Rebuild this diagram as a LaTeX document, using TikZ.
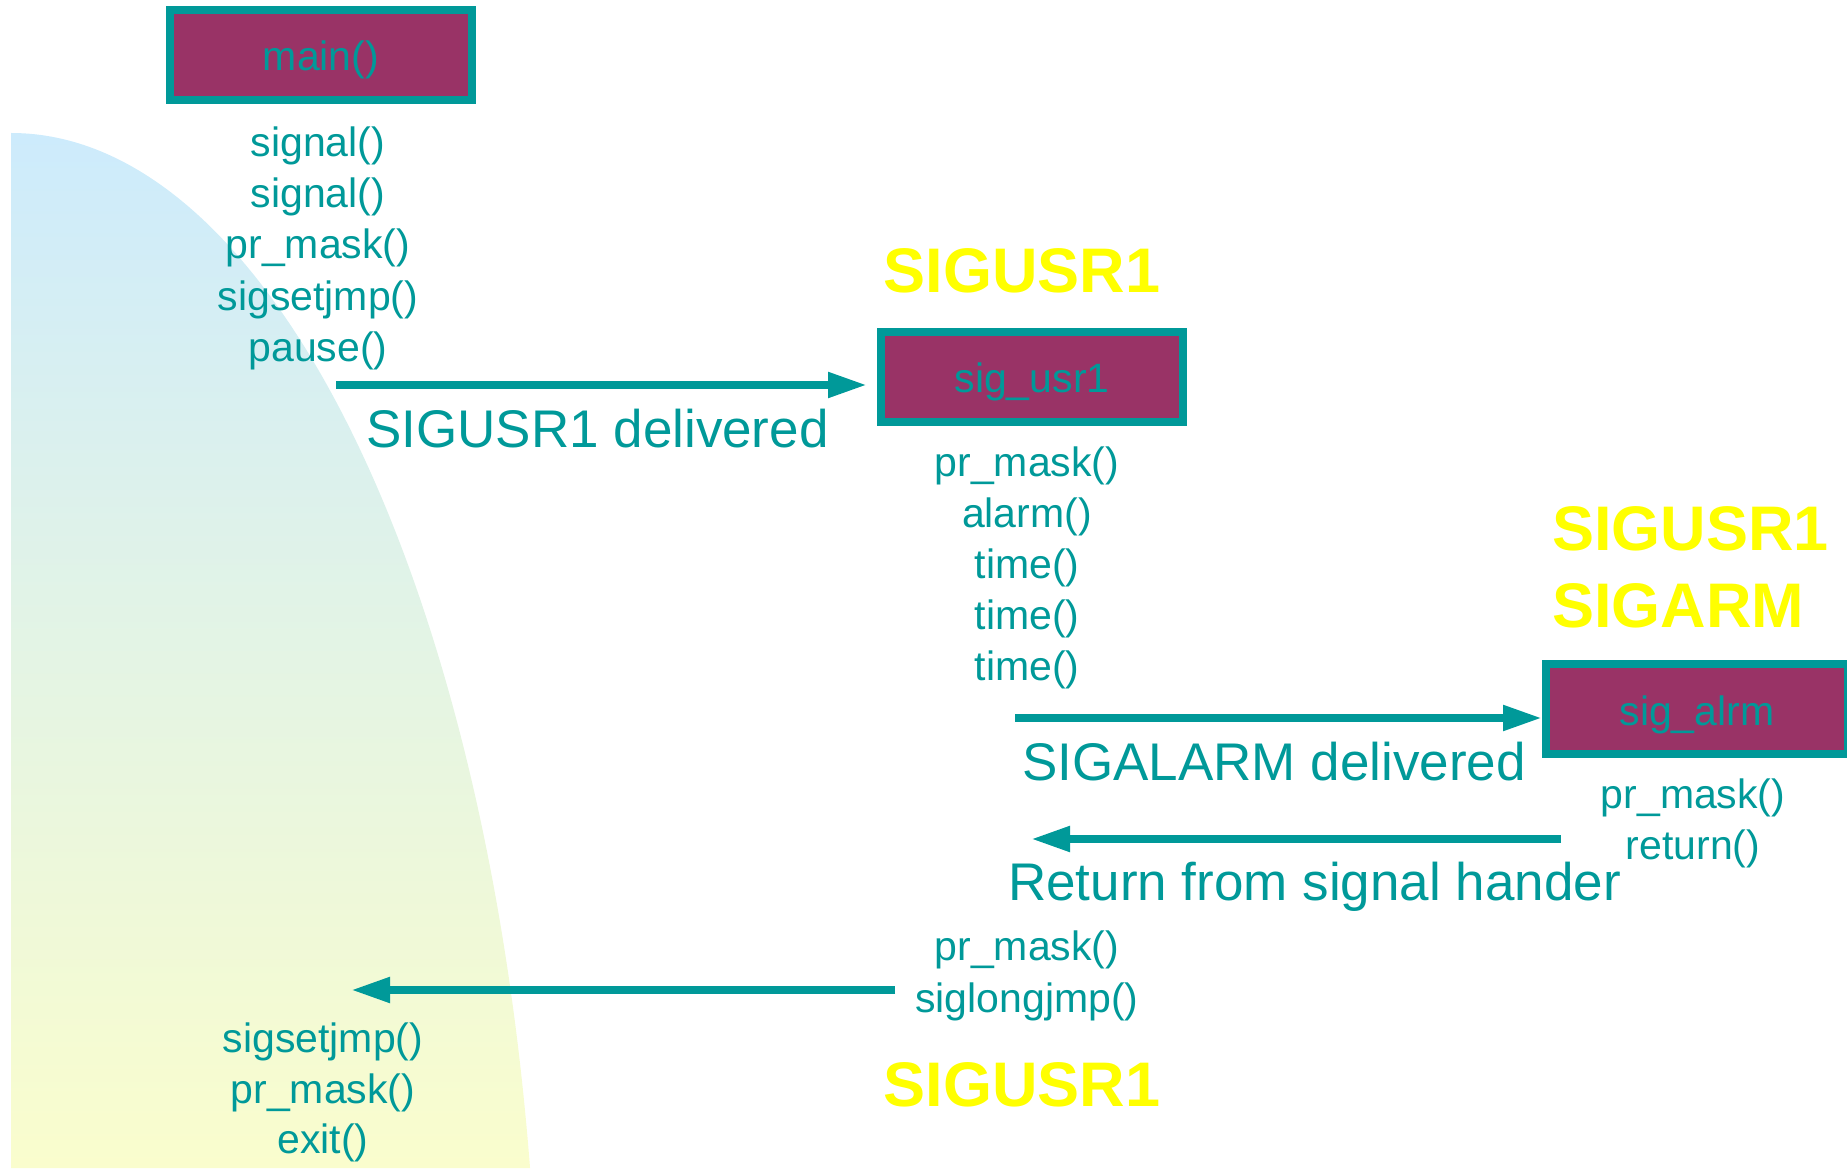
\documentclass[tikz,border=0pt]{standalone}
\usepackage{fontspec}
\setmainfont{Liberation Sans}
\usetikzlibrary{arrows.meta}
\definecolor{tealc}{HTML}{009999}
\definecolor{plumc}{HTML}{993366}
\definecolor{skyc}{HTML}{CDEBFC}
\definecolor{palec}{HTML}{FAFDCD}
\definecolor{yelc}{HTML}{FFFF00}
\newcommand{\boxlbl}[1]{\raisebox{-16pt}[0pt][0pt]{#1}}
\begin{document}
\begin{tikzpicture}[x=1pt,y=1pt,
  funcbox/.style={draw=tealc, fill=plumc, line width=8pt, minimum width=302pt, minimum height=90pt, inner sep=0pt, text=tealc, font=\fontsize{41}{49}\selectfont},
  code/.style={text=tealc, font=\fontsize{41}{49}\selectfont, inner sep=0pt, anchor=base},
  biglbl/.style={text=tealc, font=\fontsize{53}{64}\selectfont, inner sep=0pt, anchor=base west},
  sigl/.style={text=yelc, font=\bfseries\fontsize{63}{77}\selectfont, inner sep=0pt},
  flow/.style={draw=tealc, line width=8pt, -{Triangle[length=39pt,width=24pt]}}
]
\useasboundingbox (0,0) rectangle (1847,1168);
\shade[top color=skyc, bottom color=palec] (11,0) -- (11,1035) arc[start angle=90, end angle=10.55, x radius=528pt, y radius=1267pt] -- cycle;

% function boxes
\node[funcbox] (main) at (321,1113) {\boxlbl{main()}};
\node[funcbox] (usr) at (1032,791) {\boxlbl{sig\_usr1}};
\node[funcbox] (alrm) at (1697,458.5) {\boxlbl{sig\_alrm}};

% main list
\node[code] (m1) at (318,1011) {signal()};
\node[code] (m2) at (318,960) {signal()};
\node[code] (m3) at (318,909) {pr\_mask()};
\node[code] (m4) at (318,857) {sigsetjmp()};
\node[code] (m5) at (318,806) {pause()};

% sig_usr1 list
\node[code] (u1) at (1027,691) {pr\_mask()};
\node[code] (u2) at (1027,640) {alarm()};
\node[code] (u3) at (1027,589) {time()};
\node[code] (u4) at (1027,538) {time()};
\node[code] (u5) at (1027,487) {time()};

% sig_alrm list
\node[code] (r1) at (1693,359) {pr\_mask()};
\node[code] (r2) at (1693,308) {return()};

% after return
\node[code] (b1) at (1027,208) {pr\_mask()};
\node[code] (b2) at (1027,156) {siglongjmp()};

% back in main
\node[code] (e1) at (323,116) {sigsetjmp()};
\node[code] (e2) at (323,65) {pr\_mask()};
\node[code] (e3) at (323,15) {exit()};

% arrow labels
\node[biglbl] (l1) at (366,720) {SIGUSR1 delivered};
\node[biglbl] (l2) at (1022,387) {SIGALARM delivered};
\node[biglbl] (l3) at (1008,268) {Return from signal hander};

% pending signal labels
\node[sigl, anchor=base] (y1) at (1022,875) {SIGUSR1};
\node[sigl, anchor=base west] (y2) at (1552,617) {SIGUSR1};
\node[sigl, anchor=base west] (y3) at (1552,540) {SIGARM};
\node[sigl, anchor=base] (y4) at (1022,62) {SIGUSR1};

% arrows
\coordinate (a1s) at (336,783);
\draw[flow, shorten >=10pt] (a1s) -- (usr.west |- a1s);
\coordinate (a2s) at (1015,450);
\draw[flow] (a2s) -- (alrm.west |- a2s);
\coordinate (a3s) at (1561,329);
\coordinate (a3e) at (1031,329);
\draw[flow] (a3s) -- (a3e);
\coordinate (a4s) at (895,178);
\coordinate (a4e) at (351,178);
\draw[flow] (a4s) -- (a4e);
\end{tikzpicture}
\end{document}
